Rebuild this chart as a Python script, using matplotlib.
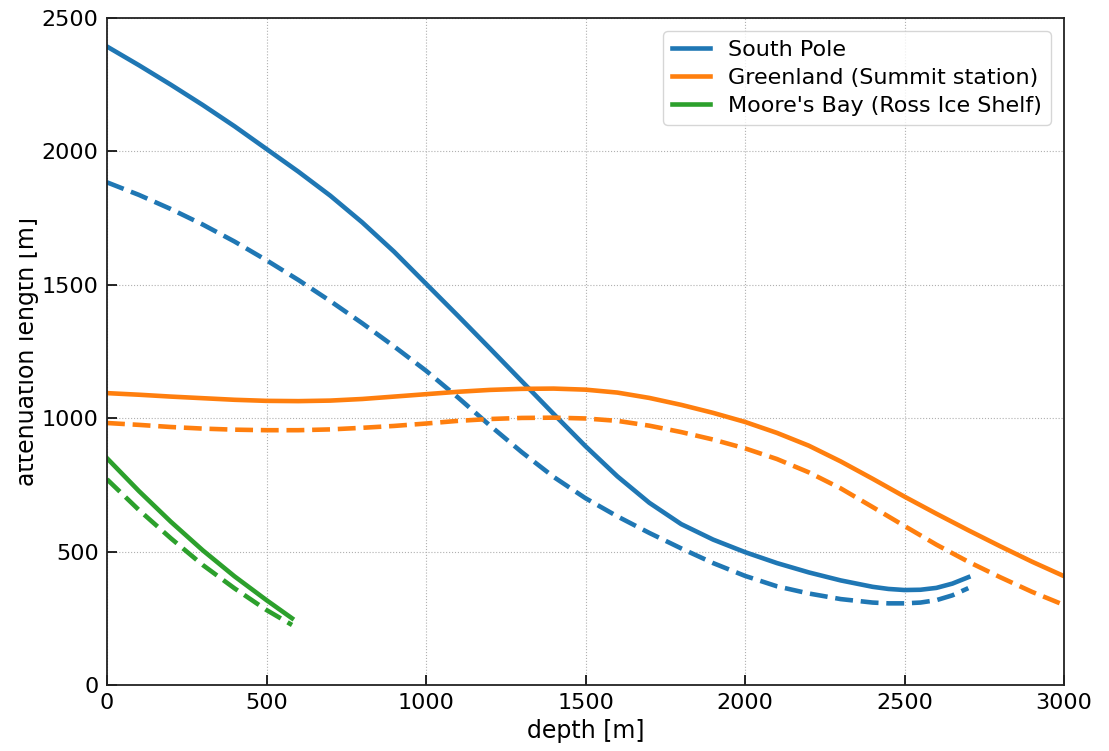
import numpy as np
import matplotlib
matplotlib.use('Agg')
from matplotlib import pyplot as plt
from matplotlib.transforms import Bbox, TransformedBbox

# depth samples [m] and attenuation lengths [m]
sp_depth = [0, 100, 200, 300, 400, 500, 600, 700, 800, 900, 1000, 1100, 1200, 1300,
            1400, 1500, 1600, 1700, 1800, 1900, 2000, 2100, 2200, 2300, 2400, 2450,
            2500, 2550, 2600, 2650, 2700]
sp_solid = [2393, 2323, 2250, 2174, 2094, 2009, 1924, 1834, 1734, 1624, 1504, 1384,
            1262, 1139, 1016, 895, 782, 683, 603, 545, 498, 457, 422, 392, 368, 360,
            356, 357, 364, 380, 404]
sp_dash = [1884, 1837, 1784, 1726, 1662, 1592, 1518, 1439, 1356, 1269, 1178, 1078,
           973, 873, 780, 700, 632, 570, 512, 457, 409, 370, 343, 322, 309, 306,
           306, 309, 318, 336, 363]

gl_depth = [0, 100, 200, 300, 400, 500, 600, 700, 800, 900, 1000, 1100, 1200, 1300,
            1400, 1500, 1600, 1700, 1800, 1900, 2000, 2100, 2200, 2300, 2400, 2500,
            2600, 2700, 2800, 2900, 3000]
gl_solid = [1094, 1088, 1081, 1075, 1069, 1065, 1064, 1066, 1072, 1081, 1090, 1099,
            1106, 1110, 1111, 1107, 1096, 1076, 1050, 1020, 986, 945, 897, 838, 773,
            706, 642, 580, 520, 462, 408]
gl_dash = [982, 975, 967, 961, 957, 955, 955, 958, 964, 971, 980, 990, 997, 1001,
           1002, 999, 990, 972, 948, 920, 887, 847, 797, 737, 667, 596, 526, 462,
           404, 349, 300]

mb_depth = [0, 100, 200, 300, 400, 500, 580]
mb_solid = [850, 727, 612, 505, 407, 318, 250]
mb_dash = [771, 656, 550, 450, 362, 281, 225]

labels = ["South Pole", "Greenland (Summit station)", "Moore's Bay (Ross Ice Shelf)"]
x_ticks = [0, 500, 1000, 1500, 2000, 2500, 3000]
y_ticks = [0, 500, 1000, 1500, 2000, 2500]

fig = plt.figure(figsize=(11.09, 7.51), dpi=100)
ax = fig.add_axes([107 / 1109, 66 / 751, 957 / 1109, 667 / 751])

lw = 3.3
dash = (3.9, 1.7)
series = [(sp_depth, sp_solid, sp_dash), (gl_depth, gl_solid, gl_dash),
          (mb_depth, mb_solid, mb_dash)]
for i, (d, s, dd) in enumerate(series):
    col = 'C%d' % i
    ax.plot(d, s, '-', color=col, lw=lw, label=labels[i])
    ax.plot(d, dd, '--', color=col, lw=lw, dashes=dash)

ax.set_xlim(0, 3000)
ax.set_ylim(0, 2500)
ax.set_xticks(x_ticks)
ax.set_yticks(y_ticks)
ax.grid(True, linestyle=':', color='#b0b0b0', lw=0.8)
ax.tick_params(direction='in', length=7, width=1.2, labelsize=16, pad=6,
               top=False, right=False)
for sp in ax.spines.values():
    sp.set_linewidth(1.3)
    sp.set_color('#222222')

ax.set_xlabel('depth [m]', fontsize=17, labelpad=4)
ax.set_ylabel('attenuation length [m]', fontsize=17)
ax.yaxis.set_label_coords(-0.071, 0.5)
# the original figure cuts off the left part of the y label
ylab = ax.yaxis.label
ylab.set_clip_box(TransformedBbox(Bbox([[19 / 1109, 0], [1, 1]]), fig.transFigure))
ylab.set_clip_on(True)

ax.legend(loc='upper right', fontsize=16, handlelength=1.7, labelspacing=0.35,
          borderaxespad=0.6, framealpha=0.8, edgecolor='#cccccc')

fig.savefig('out.png', dpi=100)
